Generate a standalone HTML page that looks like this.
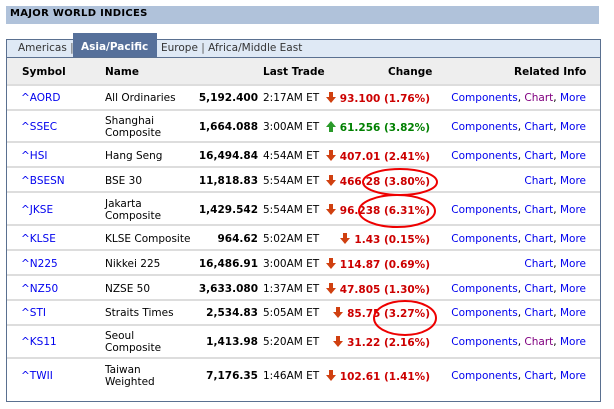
<!DOCTYPE html>
<html><head><meta charset="utf-8"><style>
body{margin:0;width:614px;height:409px;background:#fff;font-family:"DejaVu Sans","Liberation Sans",sans-serif;font-size:10.5px;color:#000;position:relative;overflow:hidden}
div,span{position:absolute;white-space:nowrap}
.l{color:#0000ee}.v{color:#800080}
.r{color:#cc0000;font-weight:bold}.g{color:#008000;font-weight:bold}
.b{font-weight:bold}
.hl{left:7px;width:593px;height:2px;background:#ddd}
svg.a{position:static;vertical-align:-1px;margin-right:4px}
</style></head><body>
<div style="left:6px;top:6px;width:593px;height:18px;background:#b0c2da"></div>
<div class="b" style="left:10px;top:8px;font-size:10px;letter-spacing:0.3px">MAJOR WORLD INDICES</div>
<div style="left:6px;top:39px;width:593px;height:362px;border:1px solid #5a7090;border-top:none"></div>
<div style="left:7px;top:39px;width:593px;height:18px;background:#dfe9f5;border-top:1px solid #5a7090"></div>
<div style="left:7px;top:57px;width:593px;height:27px;background:#eeeeee;border-top:1px solid #5a7090"></div>
<div style="left:73px;top:33px;width:84px;height:24px;background:#56709a"></div>
<div style="left:18px;top:42px;color:#333">Americas <span style="position:static;color:#555">|</span></div>
<div class="b" style="left:81px;top:41px;color:#fff">Asia/Pacific</div>
<div style="left:161px;top:42px;color:#333">Europe <span style="position:static;color:#555">|</span> Africa/Middle East</div>
<div class="b" style="left:22px;top:66px">Symbol</div>
<div class="b" style="left:105px;top:66px">Name</div>
<div class="b" style="left:263px;top:66px">Last Trade</div>
<div class="b" style="left:388px;top:66px">Change</div>
<div class="b" style="left:514px;top:66px">Related Info</div>
<div class="hl" style="top:84px"></div>
<div class="hl" style="top:109px"></div>
<div class="hl" style="top:141px"></div>
<div class="hl" style="top:166px"></div>
<div class="hl" style="top:191px"></div>
<div class="hl" style="top:224px"></div>
<div class="hl" style="top:249px"></div>
<div class="hl" style="top:274px"></div>
<div class="hl" style="top:299px"></div>
<div class="hl" style="top:324px"></div>
<div class="hl" style="top:357px"></div>
<div id="rows"></div>
<svg style="position:absolute;left:0;top:0" width="614" height="409">
<ellipse cx="400" cy="182" rx="37" ry="13" fill="none" stroke="#ee0000" stroke-width="2"/>
<ellipse cx="397" cy="211" rx="38" ry="16" fill="none" stroke="#ee0000" stroke-width="2"/>
<ellipse cx="405" cy="318" rx="31" ry="17" fill="none" stroke="#ee0000" stroke-width="2"/>
</svg>
<script>
var R=[
["^AORD",["All Ordinaries"],"5,192.400","2:17AM ET",0,"93.100 (1.76%)",98,1,1],
["^SSEC",["Shanghai","Composite"],"1,664.088","3:00AM ET",1,"61.256 (3.82%)",127,1,0],
["^HSI",["Hang Seng"],"16,494.84","4:54AM ET",0,"407.01 (2.41%)",156,1,0],
["^BSESN",["BSE 30"],"11,818.83","5:54AM ET",0,"466.28 (3.80%)",181,0,0],
["^JKSE",["Jakarta","Composite"],"1,429.542","5:54AM ET",0,"96.238 (6.31%)",210,1,0],
["^KLSE",["KLSE Composite"],"964.62","5:02AM ET",0,"1.43 (0.15%)",239,1,0],
["^N225",["Nikkei 225"],"16,486.91","3:00AM ET",0,"114.87 (0.69%)",264,0,0],
["^NZ50",["NZSE 50"],"3,633.080","1:37AM ET",0,"47.805 (1.30%)",289,1,0],
["^STI",["Straits Times"],"2,534.83","5:05AM ET",0,"85.75 (3.27%)",313,1,0],
["^KS11",["Seoul","Composite"],"1,413.98","5:20AM ET",0,"31.22 (2.16%)",342,1,1],
["^TWII",["Taiwan","Weighted"],"7,176.35","1:46AM ET",0,"102.61 (1.41%)",376,1,0]];
var dn='<svg class="a" width="10" height="11"><path d="M3 0h4v5h3l-5 6l-5-6h3z" fill="#d04010"/></svg>';
var up='<svg class="a" width="10" height="11"><path d="M3 11h4v-5h3l-5-6l-5 6h3z" fill="#2a9a2a"/></svg>';
var h="";
R.forEach(function(r){var y=r[6]-6;
h+='<div class="l" style="left:21px;top:'+y+'px">'+r[0]+'</div>';
if(r[1].length==1)h+='<div style="left:105px;top:'+y+'px">'+r[1][0]+'</div>';
else{h+='<div style="left:105px;top:'+(y-6)+'px">'+r[1][0]+'</div><div style="left:105px;top:'+(y+6)+'px">'+r[1][1]+'</div>';}
h+='<div class="b" style="right:356px;top:'+y+'px">'+r[2]+'</div>';
h+='<div style="left:263px;top:'+y+'px">'+r[3]+'</div>';
h+='<div class="'+(r[4]?'g':'r')+'" style="right:184px;top:'+y+'px">'+(r[4]?up:dn)+r[5]+'</div>';
var rel=(r[7]?'<span class="l" style="position:static">Components</span>, ':'')+'<span class="'+(r[8]?'v':'l')+'" style="position:static">Chart</span>, <span class="l" style="position:static">More</span>';
h+='<div style="right:28px;top:'+y+'px">'+rel+'</div>';});
document.getElementById('rows').outerHTML=h;
</script>
</body></html>
